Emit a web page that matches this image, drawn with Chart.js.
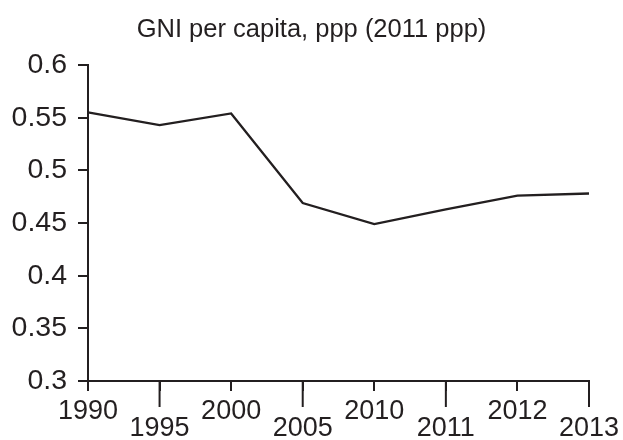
<!DOCTYPE html>
<html>
<head>
<meta charset="utf-8">
<script src="https://cdn.jsdelivr.net/npm/chart.js@4"></script>
<style>
  html, body { margin: 0; padding: 0; background: #fff; }
  #wrap { width: 623px; height: 440px; }
</style>
</head>
<body>
<div id="wrap"><canvas id="gniChart" width="623" height="440"></canvas></div>
<script>
// Dados
const years = ['1990', '1995', '2000', '2005', '2010', '2011', '2012', '2013'];
const gniValues = [0.555, 0.543, 0.554, 0.469, 0.449, 0.463, 0.476, 0.478];
const yTicks = [0.3, 0.35, 0.4, 0.45, 0.5, 0.55, 0.6];
const chartTitle = 'GNI per capita, ppp (2011 ppp)';

const ink = '#231f20';
const fontFamily = '"Liberation Sans", Arial, Helvetica, sans-serif';

// Rótulos alternados: os de índice ímpar descem uma linha
const xLabels = years.map((y, i) => i % 2 ? ['', y] : y);

// Marcas longas nos rótulos de baixo
const longTicks = {
    id: 'longTicks',
    afterDraw(chart) {
        const x = chart.scales.x;
        const ctx = chart.ctx;
        ctx.save();
        ctx.strokeStyle = ink;
        ctx.lineWidth = 2;
        years.forEach((_, i) => {
            if (i % 2 === 0) return;
            const px = x.getPixelForTick(i);
            ctx.beginPath();
            ctx.moveTo(px, x.top);
            ctx.lineTo(px, x.top + 26);
            ctx.stroke();
        });
        ctx.restore();
    }
};

new Chart(document.getElementById('gniChart'), {
    type: 'line',
    data: {
        labels: xLabels,
        datasets: [{
            data: gniValues,
            borderColor: ink,
            borderWidth: 2.3,
            pointRadius: 0,
            tension: 0,
            fill: false
        }]
    },
    options: {
        responsive: false,
        animation: false,
        layout: { padding: 0 },
        plugins: {
            legend: { display: false },
            tooltip: { enabled: false },
            title: {
                display: true,
                text: chartTitle,
                color: ink,
                font: { family: fontFamily, size: 25.5, weight: 'normal', lineHeight: 1.2 },
                padding: { top: 15, bottom: 19.4 }
            }
        },
        scales: {
            x: {
                offset: false,
                grid: { drawOnChartArea: false, tickLength: 10, color: ink, lineWidth: 2 },
                border: { color: ink, width: 2 },
                ticks: {
                    color: ink,
                    maxRotation: 0,
                    autoSkip: false,
                    padding: 12,
                    font: { family: fontFamily, size: 27, lineHeight: 0.63 }
                },
                afterFit(scale) {
                    scale.height = 59;
                    scale.paddingRight = 34;
                }
            },
            y: {
                min: 0.3,
                max: 0.6,
                afterBuildTicks(scale) {
                    scale.ticks = yTicks.map(v => ({ value: v }));
                },
                grid: { drawOnChartArea: false, tickLength: 10, color: ink, lineWidth: 2 },
                border: { color: ink, width: 2 },
                ticks: {
                    color: ink,
                    padding: 11,
                    font: { family: fontFamily, size: 28.5 },
                    callback: v => String(Math.round(v * 100) / 100)
                },
                afterFit(scale) {
                    scale.width = 88;
                }
            }
        }
    },
    plugins: [longTicks]
});
</script>
</body>
</html>
